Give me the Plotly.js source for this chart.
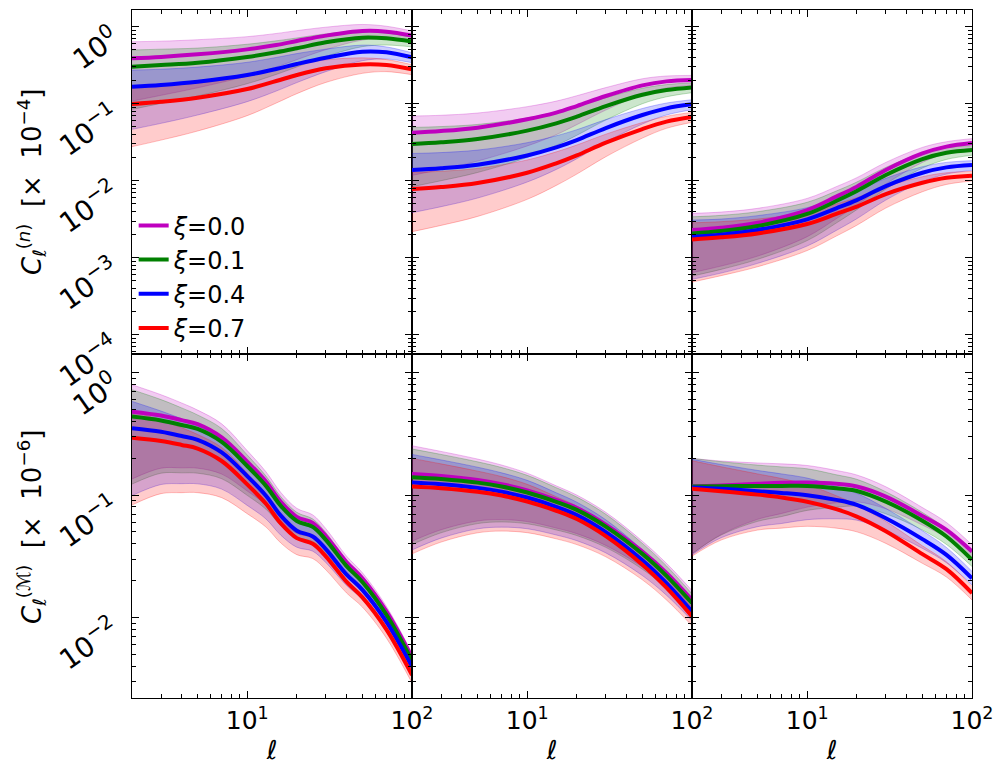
<!DOCTYPE html>
<html><head><meta charset="utf-8">
<script src="https://cdn.plot.ly/plotly-3.0.1.min.js"></script>
<style>body{margin:0;background:#fff}</style>
</head><body>
<div id="chart" style="width:1005px;height:776px"></div>
<script>
// multipole grids
const ellTop = [2,3,5,10,15,20,30,50,70,100];
const ellBL  = [2,3,4,5,7,10,13,16,20,25,30,40,50,70,100];
const ellBot = [2,3,5,7,10,15,20,30,50,70,100];
const xiLabels = ['<i>ξ</i>=0.0','<i>ξ</i>=0.1','<i>ξ</i>=0.4','<i>ξ</i>=0.7'];

// ---- top-left  C_l^(n) [x1e-4]
const tl_m    = [0.388,0.405,0.438,0.508,0.578,0.652,0.766,0.879,0.863,0.766];
const tl_m_hi = [0.638,0.649,0.678,0.743,0.817,0.889,0.986,1.069,1.014,0.879];
const tl_m_lo = [0.108,0.1285,0.161,0.229,0.299,0.373,0.504,0.671,0.706,0.653];
const tl_g    = [0.303,0.318,0.341,0.405,0.465,0.524,0.627,0.721,0.706,0.640];
const tl_g_hi = [0.498,0.511,0.528,0.592,0.656,0.714,0.807,0.877,0.830,0.735];
const tl_g_lo = [0.0845,0.101,0.126,0.182,0.240,0.300,0.412,0.551,0.578,0.546];
const tl_b    = [0.166,0.175,0.193,0.236,0.2825,0.328,0.396,0.474,0.465,0.400];
const tl_b_hi = [0.2735,0.2805,0.299,0.345,0.399,0.448,0.511,0.577,0.546,0.459];
const tl_b_lo = [0.0465,0.0556,0.0713,0.1064,0.146,0.188,0.261,0.362,0.380,0.341];
const tl_r    = [0.0991,0.106,0.1197,0.155,0.197,0.236,0.288,0.324,0.318,0.279];
const tl_r_hi = [0.163,0.170,0.185,0.227,0.279,0.322,0.371,0.394,0.374,0.321];
const tl_r_lo = [0.0277,0.0337,0.0442,0.0700,0.102,0.135,0.189,0.248,0.261,0.238];

// ---- top-middle
const tm_m    = [0.0421,0.0442,0.0489,0.0627,0.0766,0.0933,0.126,0.173,0.195,0.203];
const tm_m_hi = [0.0692,0.0708,0.0757,0.0916,0.1081,0.127,0.162,0.211,0.229,0.233];
const tm_m_lo = [0.01175,0.01403,0.0180,0.0283,0.0396,0.0535,0.0828,0.1324,0.160,0.173];
const tm_g    = [0.0299,0.0315,0.0348,0.0447,0.0556,0.0679,0.0933,0.131,0.151,0.163];
const tm_g_hi = [0.0492,0.0505,0.0538,0.0653,0.0785,0.0927,0.120,0.159,0.177,0.187];
const tm_g_lo = [0.00836,0.0100,0.0128,0.0201,0.0288,0.0389,0.0614,0.100,0.123,0.139];
const tm_b    = [0.01377,0.01449,0.01614,0.0213,0.0271,0.0337,0.0483,0.0713,0.0871,0.0982];
const tm_b_hi = [0.0226,0.0232,0.0250,0.0312,0.0383,0.0460,0.0622,0.0867,0.102,0.1127];
const tm_b_lo = [0.00385,0.0046,0.00596,0.00962,0.0140,0.0193,0.0318,0.0545,0.0713,0.0837];
const tm_r    = [0.0078,0.00828,0.00933,0.0127,0.0168,0.0213,0.0312,0.0469,0.0585,0.0671];
const tm_r_hi = [0.0128,0.01327,0.01445,0.0186,0.0237,0.0291,0.0402,0.0570,0.0687,0.0771];
const tm_r_lo = [0.00218,0.00263,0.00344,0.00573,0.00869,0.0122,0.0205,0.0358,0.0479,0.0573];

// ---- top-right
const tr_m    = [0.00229,0.00245,0.00285,0.00416,0.00621,0.00837,0.01377,0.0226,0.0277,0.0309];
const tr_m_hi = [0.00377,0.00392,0.00438,0.0059,0.00837,0.01096,0.0173,0.0271,0.0321,0.0352];
const tr_m_lo = [0.00064,0.00078,0.00105,0.00188,0.00321,0.0048,0.00906,0.0173,0.0226,0.0264];
const tr_g    = [0.00207,0.00222,0.00258,0.0037,0.00545,0.00735,0.01186,0.0191,0.0231,0.0251];
const tr_g_hi = [0.0034,0.00355,0.00396,0.00525,0.00735,0.00962,0.0149,0.0229,0.0269,0.0285];
const tr_g_lo = [0.000578,0.000706,0.000953,0.00167,0.00282,0.00421,0.0078,0.0146,0.0189,0.0214];
const tr_b    = [0.00188,0.00199,0.00229,0.00315,0.00438,0.00561,0.00853,0.0127,0.0149,0.0160];
const tr_b_hi = [0.00308,0.00318,0.00352,0.00447,0.0059,0.00735,0.01074,0.0152,0.0173,0.0182];
const tr_b_lo = [0.000524,0.000632,0.000845,0.00142,0.00226,0.00321,0.00561,0.0097,0.0122,0.01365];
const tr_r    = [0.00173,0.00184,0.00207,0.00274,0.0037,0.0046,0.00671,0.00942,0.01094,0.01161];
const tr_r_hi = [0.00284,0.00294,0.00318,0.00389,0.00499,0.00603,0.00845,0.01127,0.0127,0.0132];
const tr_r_lo = [0.000483,0.000585,0.000764,0.00124,0.00191,0.00264,0.00442,0.00719,0.00895,0.00991];

// ---- bottom-left  C_l^(M) [x1e-6]
const bl_m    = [0.481,0.447,0.410,0.380,0.296,0.188,0.129,0.0883,0.0664,0.0593,0.0463,0.0284,0.0209,0.0112,0.00472];
const bl_m_hi = [0.798,0.661,0.566,0.495,0.382,0.231,0.155,0.105,0.0780,0.0689,0.0532,0.0318,0.0232,0.0123,0.00512];
const bl_m_lo = [0.1355,0.166,0.167,0.166,0.1486,0.1081,0.0832,0.0611,0.0486,0.0450,0.0360,0.0231,0.0174,0.00955,0.00406];
const bl_g    = [0.438,0.407,0.374,0.347,0.272,0.173,0.119,0.0817,0.0615,0.0550,0.0431,0.0264,0.0195,0.0105,0.00444];
const bl_g_hi = [0.726,0.603,0.516,0.452,0.350,0.213,0.143,0.0970,0.0723,0.0638,0.0494,0.0296,0.0217,0.0115,0.00481];
const bl_g_lo = [0.123,0.151,0.152,0.151,0.1361,0.0995,0.0767,0.0565,0.0451,0.0417,0.0334,0.0215,0.01626,0.00895,0.00382];
const bl_b    = [0.352,0.329,0.304,0.283,0.223,0.143,0.0989,0.0679,0.0512,0.0459,0.0362,0.0225,0.0168,0.0092,0.00395];
const bl_b_hi = [0.583,0.486,0.420,0.369,0.288,0.176,0.119,0.0807,0.0601,0.0533,0.0416,0.0252,0.0187,0.0101,0.00429];
const bl_b_lo = [0.0991,0.122,0.124,0.1236,0.1119,0.0824,0.0638,0.0470,0.0375,0.0348,0.0281,0.0183,0.0140,0.00783,0.0034];
const bl_r    = [0.294,0.277,0.257,0.240,0.190,0.1225,0.0849,0.0587,0.0445,0.0400,0.0316,0.0196,0.0146,0.00796,0.00339];
const bl_r_hi = [0.489,0.409,0.355,0.313,0.245,0.151,0.102,0.0698,0.0522,0.0465,0.0362,0.0220,0.0162,0.00873,0.00367];
const bl_r_lo = [0.0830,0.1028,0.1047,0.1047,0.0953,0.0705,0.0548,0.0406,0.0326,0.0303,0.0245,0.0159,0.01216,0.00678,0.00292];

// ---- bottom-middle
const bm_m    = [0.149,0.1435,0.133,0.123,0.1094,0.0914,0.0785,0.0574,0.0345,0.0231,0.0139];
const bm_m_hi = [0.253,0.2275,0.197,0.176,0.151,0.119,0.100,0.0723,0.0420,0.0277,0.0166];
const bm_m_lo = [0.0420,0.0521,0.0615,0.0631,0.0608,0.0538,0.0484,0.0388,0.0259,0.0183,0.0117];
const bm_g    = [0.140,0.1355,0.1265,0.1175,0.105,0.0881,0.0757,0.0553,0.0331,0.0219,0.0131];
const bm_g_hi = [0.238,0.215,0.187,0.168,0.145,0.115,0.0964,0.0697,0.0403,0.0264,0.0156];
const bm_g_lo = [0.0394,0.0492,0.0585,0.0603,0.0583,0.0519,0.0467,0.0374,0.0248,0.0174,0.0110];
const bm_b    = [0.1265,0.1225,0.1146,0.1067,0.0955,0.0802,0.0687,0.0499,0.0294,0.0191,0.0112];
const bm_b_hi = [0.215,0.194,0.169,0.152,0.132,0.1045,0.0875,0.0628,0.0357,0.0230,0.0133];
const bm_b_lo = [0.0356,0.0445,0.0530,0.0547,0.0531,0.0472,0.0424,0.0337,0.0220,0.0152,0.00942];
const bm_r    = [0.1175,0.1138,0.1064,0.0991,0.0887,0.0745,0.0638,0.0462,0.0270,0.0175,0.0102];
const bm_r_hi = [0.1995,0.180,0.157,0.1416,0.1225,0.0970,0.0813,0.0582,0.0329,0.0210,0.0121];
const bm_r_lo = [0.0331,0.0413,0.0492,0.0508,0.0493,0.0439,0.0394,0.0313,0.0203,0.0139,0.00857];

// ---- bottom-right
const br_m    = [0.1175,0.1197,0.1236,0.1259,0.1265,0.1236,0.1175,0.0972,0.0676,0.0520,0.0346];
const br_m_hi = [0.1995,0.190,0.183,0.180,0.1746,0.159,0.146,0.117,0.0791,0.0597,0.0393];
const br_m_lo = [0.0331,0.0476,0.0634,0.0708,0.0798,0.0865,0.0881,0.0773,0.0569,0.0448,0.0305];
const br_g    = [0.1175,0.1183,0.1189,0.1189,0.1189,0.1138,0.1081,0.0885,0.0617,0.0459,0.0296];
const br_g_hi = [0.1995,0.1875,0.1758,0.170,0.164,0.1466,0.1346,0.1064,0.0721,0.0527,0.0336];
const br_g_lo = [0.0331,0.0471,0.0610,0.0668,0.0750,0.0796,0.0811,0.0703,0.0519,0.0395,0.0261];
const br_b    = [0.1153,0.1125,0.1076,0.1042,0.0998,0.0914,0.0832,0.0647,0.0437,0.0325,0.0209];
const br_b_hi = [0.196,0.178,0.159,0.149,0.1377,0.1178,0.1035,0.0778,0.0511,0.0373,0.0238];
const br_b_lo = [0.0325,0.0448,0.0552,0.0586,0.0630,0.0640,0.0624,0.0514,0.0367,0.0280,0.01845];
const br_r    = [0.1125,0.1076,0.1009,0.0955,0.0881,0.0767,0.0668,0.0507,0.0329,0.0248,0.0158];
const br_r_hi = [0.191,0.1706,0.149,0.1365,0.1216,0.0989,0.0832,0.0610,0.0385,0.0285,0.01795];
const br_r_lo = [0.0317,0.0429,0.0518,0.0537,0.0556,0.0537,0.0501,0.0403,0.0277,0.0214,0.0139];

const lineColors = ['#bf00bf','#008000','#0000ff','#ff0000'];
const bandFill = ['rgba(191,0,191,0.2)','rgba(0,128,0,0.2)','rgba(0,0,255,0.2)','rgba(255,0,0,0.2)'];
const bandEdge = ['rgba(191,0,191,0.25)','rgba(0,128,0,0.25)','rgba(0,0,255,0.25)','rgba(255,0,0,0.25)'];

const panels = [
  {xa:'x',  ya:'y',  ell:ellTop, s:[[tl_m,tl_m_lo,tl_m_hi],[tl_g,tl_g_lo,tl_g_hi],[tl_b,tl_b_lo,tl_b_hi],[tl_r,tl_r_lo,tl_r_hi]]},
  {xa:'x2', ya:'y2', ell:ellTop, s:[[tm_m,tm_m_lo,tm_m_hi],[tm_g,tm_g_lo,tm_g_hi],[tm_b,tm_b_lo,tm_b_hi],[tm_r,tm_r_lo,tm_r_hi]]},
  {xa:'x3', ya:'y3', ell:ellTop, s:[[tr_m,tr_m_lo,tr_m_hi],[tr_g,tr_g_lo,tr_g_hi],[tr_b,tr_b_lo,tr_b_hi],[tr_r,tr_r_lo,tr_r_hi]]},
  {xa:'x4', ya:'y4', ell:ellBL,  s:[[bl_m,bl_m_lo,bl_m_hi],[bl_g,bl_g_lo,bl_g_hi],[bl_b,bl_b_lo,bl_b_hi],[bl_r,bl_r_lo,bl_r_hi]]},
  {xa:'x5', ya:'y5', ell:ellBot, s:[[bm_m,bm_m_lo,bm_m_hi],[bm_g,bm_g_lo,bm_g_hi],[bm_b,bm_b_lo,bm_b_hi],[bm_r,bm_r_lo,bm_r_hi]]},
  {xa:'x6', ya:'y6', ell:ellBot, s:[[br_m,br_m_lo,br_m_hi],[br_g,br_g_lo,br_g_hi],[br_b,br_b_lo,br_b_hi],[br_r,br_r_lo,br_r_hi]]}
];

const traces = [];
panels.forEach(p => {
  p.s.forEach((ser, si) => {
    traces.push({x:p.ell, y:ser[1], xaxis:p.xa, yaxis:p.ya, type:'scatter', mode:'lines',
      line:{color:bandEdge[si], width:1, shape:'spline'}, showlegend:false, hoverinfo:'skip'});
    traces.push({x:p.ell, y:ser[2], xaxis:p.xa, yaxis:p.ya, type:'scatter', mode:'lines',
      line:{color:bandEdge[si], width:1, shape:'spline'}, fill:'tonexty', fillcolor:bandFill[si],
      showlegend:false, hoverinfo:'skip'});
  });
});
panels.forEach((p, pi) => {
  p.s.forEach((ser, si) => {
    traces.push({x:p.ell, y:ser[0], xaxis:p.xa, yaxis:p.ya, type:'scatter', mode:'lines',
      line:{color:lineColors[si], width:4, shape:'spline'}, name:xiLabels[si], showlegend: pi === 0});
  });
});

// minor tick positions (2..9 per decade)
function minorVals(lo, hi) {
  const v = [];
  for (let e = lo; e <= hi; e++) for (let k = 2; k <= 9; k++) v.push(k * Math.pow(10, e));
  return v;
}
const fontFam = 'DejaVu Sans, sans-serif';
const xd = [[132/1005, 412/1005], [412/1005, 692/1005], [692/1005, 972/1005]];
const ydTop = [1 - 354/776, 1 - 10/776];
const ydBot = [1 - 698/776, 1 - 354/776];

function xAxis(dom, anchor, labels) {
  return {
    type:'log', range:[Math.log10(2), 2], domain:dom, anchor:anchor,
    showline:true, linecolor:'#000', linewidth:1.3, mirror:'allticks',
    ticks:'inside', ticklen:7, tickwidth:1.2, tickcolor:'#000',
    tickmode:'array', tickvals:[10, 100], ticktext:['10<sup>1</sup>','10<sup>2</sup>'],
    showticklabels:labels, tickfont:{family:fontFam, size:25, color:'#000'},
    minor:{ticks:'inside', ticklen:4, tickwidth:1, tickcolor:'#000', tickmode:'array', tickvals:[3,4,5,6,7,8,9,20,30,40,50,60,70,80,90], showgrid:false},
    showgrid:false, zeroline:false, fixedrange:true,
    title: labels ? {text:'<i>ℓ</i>', font:{family:fontFam, size:26, color:'#000'}, standoff:6} : {text:''}
  };
}
function yAxis(dom, anchor, range, tv, tt, mlo, mhi, labels) {
  return {
    type:'log', range:range, domain:dom, anchor:anchor,
    showline:true, linecolor:'#000', linewidth:1.3, mirror:'allticks',
    ticks:'inside', ticklen:7, tickwidth:1.2, tickcolor:'#000',
    tickmode:'array', tickvals:tv, ticktext:tt, tickangle:-35, ticklabelstandoff:12, ticklabelshift:9,
    showticklabels:labels, tickfont:{family:fontFam, size:28, color:'#000'},
    minor:{ticks:'inside', ticklen:4, tickwidth:1, tickcolor:'#000', tickmode:'array', tickvals:minorVals(mlo, mhi), showgrid:false},
    showgrid:false, zeroline:false, fixedrange:true
  };
}
const topTV = [1, 0.1, 0.01, 0.001, 0.0001];
const topTT = ['10<sup>0</sup>','10<sup>−1</sup>','10<sup>−2</sup>','10<sup>−3</sup>','10<sup>−4</sup>'];
const botTV = [1, 0.1, 0.01];
const botTT = ['10<sup>0</sup>','10<sup>−1</sup>','10<sup>−2</sup>'];
const topRange = [-4.25, 0.217];
const botRange = [-2.658, 0.153];

const layout = {
  width:1005, height:776, margin:{l:0, r:0, t:0, b:0},
  paper_bgcolor:'#fff', plot_bgcolor:'rgba(0,0,0,0)',
  font:{family:fontFam, size:24, color:'#000'},
  showlegend:true,
  legend:{x:0.133, y:0.738, xanchor:'left', yanchor:'top', bgcolor:'rgba(0,0,0,0)', borderwidth:0,
          traceorder:'normal', font:{family:fontFam, size:24, color:'#000'}, tracegroupgap:0, itemwidth:30},
  xaxis: xAxis(xd[0], 'y', false),
  xaxis2: xAxis(xd[1], 'y2', false),
  xaxis3: xAxis(xd[2], 'y3', false),
  xaxis4: xAxis(xd[0], 'y4', true),
  xaxis5: xAxis(xd[1], 'y5', true),
  xaxis6: xAxis(xd[2], 'y6', true),
  yaxis: yAxis(ydTop, 'x', topRange, topTV, topTT, -5, -1, true),
  yaxis2: yAxis(ydTop, 'x2', topRange, topTV, topTT, -5, -1, false),
  yaxis3: yAxis(ydTop, 'x3', topRange, topTV, topTT, -5, -1, false),
  yaxis4: yAxis(ydBot, 'x4', botRange, botTV, botTT, -3, -1, true),
  yaxis5: yAxis(ydBot, 'x5', botRange, botTV, botTT, -3, -1, false),
  yaxis6: yAxis(ydBot, 'x6', botRange, botTV, botTT, -3, -1, false),
  annotations:[
    {xref:'paper', yref:'paper', x:31/1005, y:1 - 182/776, xanchor:'center', yanchor:'middle', textangle:-90, showarrow:false,
     text:'<i>C</i><sub><i>ℓ</i></sub><sup>(<i>n</i>)</sup>\u00a0\u00a0[×\u00a0\u00a010<sup>−4</sup>]', font:{family:fontFam, size:26, color:'#000'}},
    {xref:'paper', yref:'paper', x:31/1005, y:1 - 527/776, xanchor:'center', yanchor:'middle', textangle:-90, showarrow:false,
     text:'<i>C</i><sub><i>ℓ</i></sub><sup>(ℳ)</sup>\u00a0\u00a0[×\u00a0\u00a010<sup>−6</sup>]', font:{family:fontFam, size:26, color:'#000'}}
  ]
};

Plotly.newPlot('chart', traces, layout, {displayModeBar:false, staticPlot:true});
</script>
</body></html>
